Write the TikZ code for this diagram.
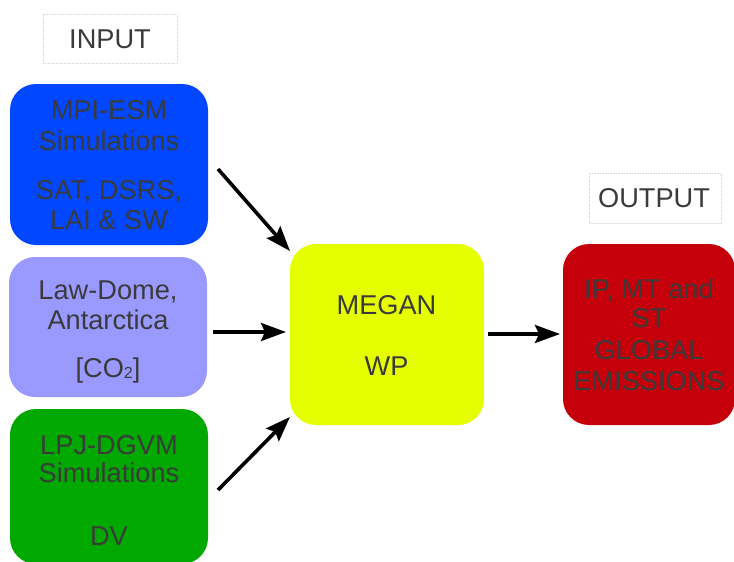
\documentclass[tikz,border=0pt]{standalone}
\usepackage{fontspec}
\setmainfont{Liberation Sans}
\usetikzlibrary{arrows.meta}
\definecolor{tgray}{HTML}{3A3A3A}
\definecolor{cblue}{HTML}{0047FF}
\definecolor{clav}{HTML}{9999FF}
\definecolor{cgreen}{HTML}{00A800}
\definecolor{cyellow}{HTML}{E6FF00}
\definecolor{cred}{HTML}{C5000B}
\tikzset{
  box/.style={rounded corners=26pt, inner sep=0pt},
  lbl/.style={draw=black!15, line width=0.6pt, densely dotted, inner sep=0pt},
  txt/.style={anchor=base, inner sep=0pt, text=tgray, font=\fontsize{27.2}{31}\selectfont},
  arr/.style={line width=3.6pt, -{Stealth[length=25pt,width=18pt,inset=4pt]}}
}
\begin{document}
\begin{tikzpicture}[x=1pt,y=-1pt]
\useasboundingbox (0,0) rectangle (734,562);
\clip (0,0) rectangle (734,562);
\fill[white] (0,0) rectangle (734,562);
% label boxes
\node[lbl, minimum width=134pt, minimum height=49pt] (inbox) at (110,38.5) {};
\node[txt] (intxt) at (110,48) {INPUT};
\node[lbl, minimum width=132pt, minimum height=50pt] (outbox) at (655,198) {};
\node[txt] (outtxt) at (654,207) {OUTPUT};
% input boxes
\node[box, fill=cblue, minimum width=198pt, minimum height=161pt] (mpi) at (109,164.5) {};
\node[txt] (mpi1) at (109,119) {MPI-ESM};
\node[txt] (mpi2) at (109,150) {Simulations};
\node[txt] (mpi3) at (109,199) {SAT, DSRS,};
\node[txt] (mpi4) at (109,229) {LAI \& SW};
\node[box, fill=clav, minimum width=198pt, minimum height=140pt] (law) at (108,327) {};
\node[txt] (law1) at (108,299) {Law-Dome,};
\node[txt] (law2) at (108,329) {Antarctica};
\node[txt] (law3) at (108,377) {[CO{\fontsize{16}{16}\selectfont\raisebox{-1.5pt}{2}}]};
\node[box, fill=cgreen, minimum width=198pt, minimum height=155pt] (lpj) at (109,486.5) {};
\node[txt] (lpj1) at (109,454) {LPJ-DGVM};
\node[txt] (lpj2) at (109,482) {Simulations};
\node[txt] (lpj3) at (109,545) {DV};
% central
\node[box, fill=cyellow, minimum width=194pt, minimum height=181pt] (megan) at (387,334.5) {};
\node[txt] (meg1) at (386.5,314) {MEGAN};
\node[txt] (meg2) at (386.5,375) {WP};
% output
\node[box, fill=cred, minimum width=172pt, minimum height=181pt] (emis) at (649,334.5) {};
\node[txt] (em1) at (649,298) {IP, MT and};
\node[txt] (em2) at (649,327) {ST};
\node[txt] (em3) at (649,359) {GLOBAL};
\node[txt] (em4) at (649,390) {EMISSIONS};
% arrows
\coordinate (a1s) at (218,169); \coordinate (a1e) at (290,251);
\coordinate (a2s) at (213,332); \coordinate (a2e) at (286,332);
\coordinate (a3s) at (218,490); \coordinate (a3e) at (290,417);
\coordinate (a4s) at (488,334); \coordinate (a4e) at (560,334);
\draw[arr] (a1s) -- (a1e);
\draw[arr] (a2s) -- (a2e);
\draw[arr] (a3s) -- (a3e);
\draw[arr] (a4s) -- (a4e);
\end{tikzpicture}
\end{document}
